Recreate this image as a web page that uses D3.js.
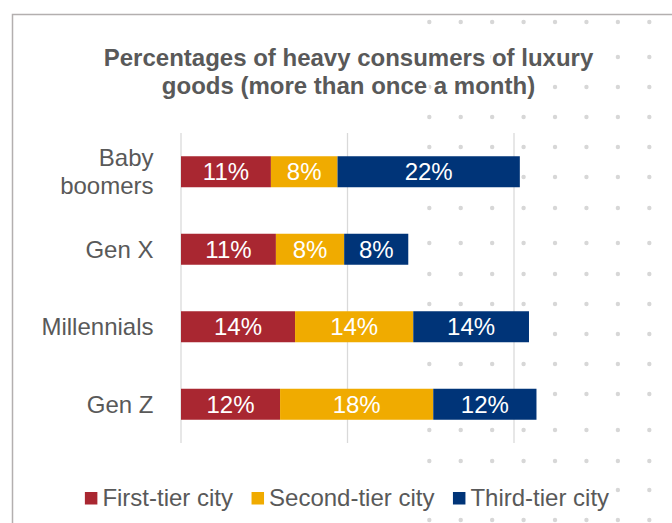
<!DOCTYPE html>
<html>
<head>
<meta charset="utf-8">
<script src="https://cdn.jsdelivr.net/npm/d3@7"></script>
<style>
  html, body { margin: 0; padding: 0; background: #fff; }
  svg { display: block; font-family: "Liberation Sans", Arial, sans-serif; }
</style>
</head>
<body>
<svg id="chart" width="672" height="523"></svg>
<script>
const width = 672;
const height = 523;

// data
const generations = ["Baby boomers", "Gen X", "Millennials", "Gen Z"];
const tiers = ["First-tier city", "Second-tier city", "Third-tier city"];
const firstTier = [10.8, 11.4, 13.7, 11.9];
const secondTier = [8.0, 8.2, 14.2, 18.4];
const thirdTier = [21.9, 7.7, 13.9, 12.4];
const gridTicks = [0, 20, 40];
const colors = ["#a92731", "#f0ab00", "#003478"];

const textColor = "#595959";

const svg = d3.select("#chart");

// decorative dot pattern behind the chart
const dotCols = d3.range(8).map(i => 429.3 + i * 31.43);
const dotRows = [22, 57, 87, 117, 147, 177, 208, 243, 274, 304, 334, 364, 394, 430, 461, 490, 520];
const dots = [];
dotRows.forEach(y => dotCols.forEach(x => dots.push([x, y])));
svg.append("g")
    .selectAll("circle")
    .data(dots)
    .enter().append("circle")
    .attr("cx", d => d[0])
    .attr("cy", d => d[1])
    .attr("r", 2.2)
    .attr("fill", "#d7d7d7");

// frame
svg.append("path")
    .attr("d", "M12.5,523V14.5H672")
    .attr("fill", "none")
    .attr("stroke", "#b3afaf")
    .attr("stroke-width", 1.5);

// title
const title = svg.append("text")
    .attr("text-anchor", "middle")
    .attr("font-size", 24)
    .attr("font-weight", "bold")
    .attr("fill", textColor)
    .attr("stroke", "#fff")
    .attr("stroke-width", 5)
    .attr("paint-order", "stroke");
title.append("tspan").attr("x", 348.5).attr("y", 66).text("Percentages of heavy consumers of luxury");
title.append("tspan").attr("x", 348.5).attr("y", 93.5).text("goods (more than once a month)");

// scales
const x = d3.scaleLinear().domain([0, 40]).range([181, 514]);
const y = d3.scaleBand().domain(generations).range([133, 443]).paddingInner(0.6).paddingOuter(0.3);

// gridlines
svg.append("g")
    .selectAll("line")
    .data(gridTicks)
    .enter().append("line")
    .attr("x1", d => x(d))
    .attr("x2", d => x(d))
    .attr("y1", 133)
    .attr("y2", 443)
    .attr("stroke", "#d9d9d9")
    .attr("stroke-width", 1.25);

// stacked bars
const rows = generations.map((g, i) => ({ gen: g, first: firstTier[i], second: secondTier[i], third: thirdTier[i] }));
const stack = d3.stack().keys(["first", "second", "third"]);
const series = stack(rows);

const layers = svg.append("g")
    .selectAll("g")
    .data(series)
    .enter().append("g")
    .attr("fill", (d, i) => colors[i]);

layers.selectAll("rect")
    .data(d => d)
    .enter().append("rect")
    .attr("x", d => x(d[0]))
    .attr("y", d => y(d.data.gen))
    .attr("width", d => x(d[1]) - x(d[0]))
    .attr("height", y.bandwidth());

layers.selectAll("text")
    .data(d => d)
    .enter().append("text")
    .attr("x", d => (x(d[0]) + x(d[1])) / 2)
    .attr("y", d => y(d.data.gen) + y.bandwidth() / 2)
    .attr("dy", "0.35em")
    .attr("text-anchor", "middle")
    .attr("font-size", 24)
    .attr("fill", "#fff")
    .text(d => Math.round(d[1] - d[0]) + "%");

// category labels
const labels = svg.append("g")
    .selectAll("text")
    .data(generations)
    .enter().append("text")
    .attr("text-anchor", "end")
    .attr("font-size", 24)
    .attr("fill", textColor)
    .attr("y", d => y(d) + y.bandwidth() / 2);

labels.each(function (d) {
    const parts = d === "Baby boomers" ? ["Baby", "boomers"] : [d];
    const sel = d3.select(this);
    parts.forEach((p, i) => {
        sel.append("tspan")
            .attr("x", 153.5)
            .attr("dy", parts.length === 1 ? "0.35em" : (i === 0 ? "-0.22em" : "1.14em"))
            .text(p);
    });
});

// legend
const legend = svg.append("g");
const legendBg = legend.append("rect")
    .attr("fill", "#fff");
const items = legend.selectAll("g")
    .data(tiers)
    .enter().append("g");
items.append("rect")
    .attr("width", 12.5)
    .attr("height", 12.5)
    .attr("y", 492)
    .attr("fill", (d, i) => colors[i]);
items.append("text")
    .attr("x", 17.5)
    .attr("y", 498)
    .attr("dy", "0.35em")
    .attr("font-size", 24)
    .attr("fill", textColor)
    .text(d => d);

let pos = 0;
const itemPos = [];
items.each(function () {
    const w = 17.5 + this.querySelector("text").getComputedTextLength();
    itemPos.push(pos);
    pos += w + 18.5;
});
const totalW = pos - 18.5;
const startX = 347 - totalW / 2;
items.attr("transform", (d, i) => `translate(${startX + itemPos[i]},0)`);
legendBg
    .attr("x", startX - 4)
    .attr("y", 480)
    .attr("width", totalW + 8)
    .attr("height", 34);
</script>
</body>
</html>
